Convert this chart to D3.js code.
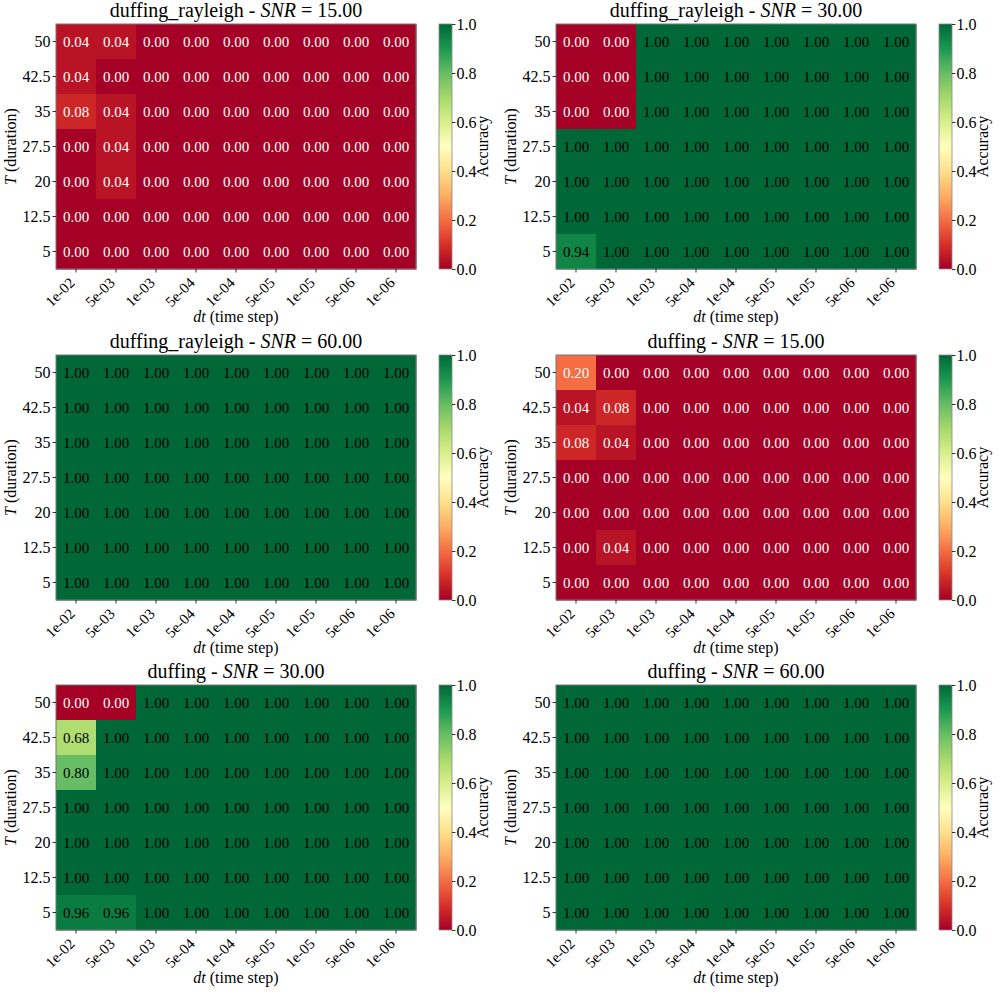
<!DOCTYPE html>
<html>
<head>
<meta charset="utf-8">
<script src="https://cdn.jsdelivr.net/npm/d3@7"></script>
<style>
  body { margin: 0; background: #fff; }
  svg text { font-family: "Liberation Serif", "DejaVu Serif", serif !important; }
</style>
</head>
<body>
<div id="chart"></div>
<script>
let dtLabels = ["1e-02", "5e-03", "1e-03", "5e-04", "1e-04", "5e-05", "1e-05", "5e-06", "1e-06"];
let durLabels = ["50", "42.5", "35", "27.5", "20", "12.5", "5"];
let cbarTicks = [0, 0.2, 0.4, 0.6, 0.8, 1.0];

// rows top -> bottom (50 ... 5), cols 1e-02 ... 1e-06
let rayleigh15 = [
  [0.04, 0.04, 0, 0, 0, 0, 0, 0, 0],
  [0.04, 0, 0, 0, 0, 0, 0, 0, 0],
  [0.08, 0.04, 0, 0, 0, 0, 0, 0, 0],
  [0, 0.04, 0, 0, 0, 0, 0, 0, 0],
  [0, 0.04, 0, 0, 0, 0, 0, 0, 0],
  [0, 0, 0, 0, 0, 0, 0, 0, 0],
  [0, 0, 0, 0, 0, 0, 0, 0, 0]
];
let rayleigh30 = [
  [0, 0, 1, 1, 1, 1, 1, 1, 1],
  [0, 0, 1, 1, 1, 1, 1, 1, 1],
  [0, 0, 1, 1, 1, 1, 1, 1, 1],
  [1, 1, 1, 1, 1, 1, 1, 1, 1],
  [1, 1, 1, 1, 1, 1, 1, 1, 1],
  [1, 1, 1, 1, 1, 1, 1, 1, 1],
  [0.94, 1, 1, 1, 1, 1, 1, 1, 1]
];
let rayleigh60 = [
  [1, 1, 1, 1, 1, 1, 1, 1, 1],
  [1, 1, 1, 1, 1, 1, 1, 1, 1],
  [1, 1, 1, 1, 1, 1, 1, 1, 1],
  [1, 1, 1, 1, 1, 1, 1, 1, 1],
  [1, 1, 1, 1, 1, 1, 1, 1, 1],
  [1, 1, 1, 1, 1, 1, 1, 1, 1],
  [1, 1, 1, 1, 1, 1, 1, 1, 1]
];
let duffing15 = [
  [0.20, 0, 0, 0, 0, 0, 0, 0, 0],
  [0.04, 0.08, 0, 0, 0, 0, 0, 0, 0],
  [0.08, 0.04, 0, 0, 0, 0, 0, 0, 0],
  [0, 0, 0, 0, 0, 0, 0, 0, 0],
  [0, 0, 0, 0, 0, 0, 0, 0, 0],
  [0, 0.04, 0, 0, 0, 0, 0, 0, 0],
  [0, 0, 0, 0, 0, 0, 0, 0, 0]
];
let duffing30 = [
  [0, 0, 1, 1, 1, 1, 1, 1, 1],
  [0.68, 1, 1, 1, 1, 1, 1, 1, 1],
  [0.80, 1, 1, 1, 1, 1, 1, 1, 1],
  [1, 1, 1, 1, 1, 1, 1, 1, 1],
  [1, 1, 1, 1, 1, 1, 1, 1, 1],
  [1, 1, 1, 1, 1, 1, 1, 1, 1],
  [0.96, 0.96, 1, 1, 1, 1, 1, 1, 1]
];
let duffing60 = [
  [1, 1, 1, 1, 1, 1, 1, 1, 1],
  [1, 1, 1, 1, 1, 1, 1, 1, 1],
  [1, 1, 1, 1, 1, 1, 1, 1, 1],
  [1, 1, 1, 1, 1, 1, 1, 1, 1],
  [1, 1, 1, 1, 1, 1, 1, 1, 1],
  [1, 1, 1, 1, 1, 1, 1, 1, 1],
  [1, 1, 1, 1, 1, 1, 1, 1, 1]
];

// reading order: left to right, then down
let panels = [
  {system: "duffing_rayleigh", snr: "15.00", grid: rayleigh15},
  {system: "duffing_rayleigh", snr: "30.00", grid: rayleigh30},
  {system: "duffing_rayleigh", snr: "60.00", grid: rayleigh60},
  {system: "duffing", snr: "15.00", grid: duffing15},
  {system: "duffing", snr: "30.00", grid: duffing30},
  {system: "duffing", snr: "60.00", grid: duffing60}
];

let width = 1000, height = 995;
let margin = {left: 56, top: 24};
let mapW = 360, mapH = 245;
let cbarX = 439, cbarW = 13;
let colX = [0, 500], rowY = [0, 331, 661];

// matplotlib RdYlGn is a linear ramp over the 11 brewer colours
let rdylgn = d3.schemeRdYlGn[11];
let color = d3.scaleLinear()
    .domain(d3.range(11).map(i => i / 10))
    .range(rdylgn)
    .interpolate(d3.interpolateRgb);

let xScale = d3.scaleBand().domain(dtLabels).range([0, mapW]);
let yScale = d3.scaleBand().domain(durLabels).range([0, mapH]);
let cScale = d3.scaleLinear().domain([0, 1]).range([mapH, 0]);

let svg = d3.select("#chart").append("svg")
    .attr("width", width)
    .attr("height", height);

let defs = svg.append("defs");
let grad = defs.append("linearGradient")
    .attr("id", "cbar")
    .attr("x1", 0).attr("y1", 1).attr("x2", 0).attr("y2", 0);
grad.selectAll("stop")
    .data(rdylgn)
    .enter().append("stop")
    .attr("offset", (d, i) => (i / 10 * 100) + "%")
    .attr("stop-color", d => d);

panels.forEach(function(p, idx) {
    let ox = colX[idx % 2];
    let oy = rowY[Math.floor(idx / 2)];
    let g = svg.append("g")
        .attr("transform", "translate(" + (ox + margin.left) + "," + (oy + margin.top) + ")");

    let cells = [];
    p.grid.forEach(function(row, r) {
        row.forEach(function(v, c) {
            cells.push({dur: durLabels[r], dt: dtLabels[c], v: v});
        });
    });

    g.selectAll(".cell")
        .data(cells)
        .enter().append("rect")
        .attr("class", "cell")
        .attr("x", d => xScale(d.dt))
        .attr("y", d => yScale(d.dur))
        .attr("width", xScale.bandwidth() + 0.5)
        .attr("height", yScale.bandwidth() + 0.5)
        .attr("fill", d => color(d.v));

    g.selectAll(".val")
        .data(cells)
        .enter().append("text")
        .attr("class", "val")
        .attr("x", d => xScale(d.dt) + xScale.bandwidth() / 2)
        .attr("y", d => yScale(d.dur) + yScale.bandwidth() / 2)
        .attr("dy", "0.35em")
        .attr("text-anchor", "middle")
        .attr("font-size", 15)
        .attr("fill", d => d.v < 0.5 ? "white" : "black")
        .text(d => d.v.toFixed(2));

    g.append("rect")
        .attr("width", mapW).attr("height", mapH)
        .attr("fill", "none")
        .attr("stroke", "#777").attr("stroke-width", 1);

    // y axis
    let yAxis = g.append("g").call(d3.axisLeft(yScale).tickSize(3.5).tickPadding(2));
    yAxis.select(".domain").remove();
    yAxis.selectAll("text").attr("font-size", 16).attr("fill", "#000");
    yAxis.selectAll("line").attr("stroke", "#000").attr("stroke-width", 0.8);

    // x axis, labels rotated 45 with their top-right corner under the tick
    let xAxis = g.append("g").attr("transform", "translate(0," + mapH + ")")
        .call(d3.axisBottom(xScale).tickSize(3.5).tickPadding(2));
    xAxis.select(".domain").remove();
    xAxis.selectAll("line").attr("stroke", "#000").attr("stroke-width", 0.8);
    xAxis.selectAll("text")
        .attr("font-size", 15).attr("fill", "#000")
        .attr("text-anchor", "end")
        .attr("x", -10.6).attr("y", 10.2).attr("dy", 0)
        .attr("transform", "rotate(-45)");

    // title
    let title = g.append("text")
        .attr("x", mapW / 2).attr("y", -7)
        .attr("text-anchor", "middle")
        .attr("font-size", 20);
    title.append("tspan").text(p.system + " - ");
    title.append("tspan").attr("font-style", "italic").text("SNR");
    title.append("tspan").text(" = " + p.snr);

    // axis labels
    let xl = g.append("text")
        .attr("x", mapW / 2).attr("y", mapH + 53)
        .attr("text-anchor", "middle")
        .attr("font-size", 16);
    xl.append("tspan").attr("font-style", "italic").text("dt");
    xl.append("tspan").text(" (time step)");

    let yl = g.append("text")
        .attr("transform", "translate(-40," + (mapH / 2) + ") rotate(-90)")
        .attr("text-anchor", "middle")
        .attr("font-size", 16);
    yl.append("tspan").attr("font-style", "italic").text("T");
    yl.append("tspan").text(" (duration)");

    // colorbar
    let cb = g.append("g").attr("transform", "translate(" + (cbarX - margin.left) + ",0)");
    cb.append("rect")
        .attr("width", cbarW).attr("height", mapH)
        .attr("fill", "url(#cbar)")
        .attr("stroke", "#888").attr("stroke-width", 0.8);
    let cAxis = cb.append("g").attr("transform", "translate(" + cbarW + ",0)")
        .call(d3.axisRight(cScale).tickValues(cbarTicks).tickFormat(d3.format(".1f")).tickSize(3.5).tickPadding(1));
    cAxis.select(".domain").remove();
    cAxis.selectAll("line").attr("stroke", "#000").attr("stroke-width", 0.8);
    cAxis.selectAll("text").attr("font-size", 16).attr("fill", "#000");
    cb.append("text")
        .attr("transform", "translate(" + (cbarW + 36) + "," + (mapH / 2) + ") rotate(-90)")
        .attr("text-anchor", "middle")
        .attr("font-size", 16)
        .text("Accuracy");
});
</script>
</body>
</html>
